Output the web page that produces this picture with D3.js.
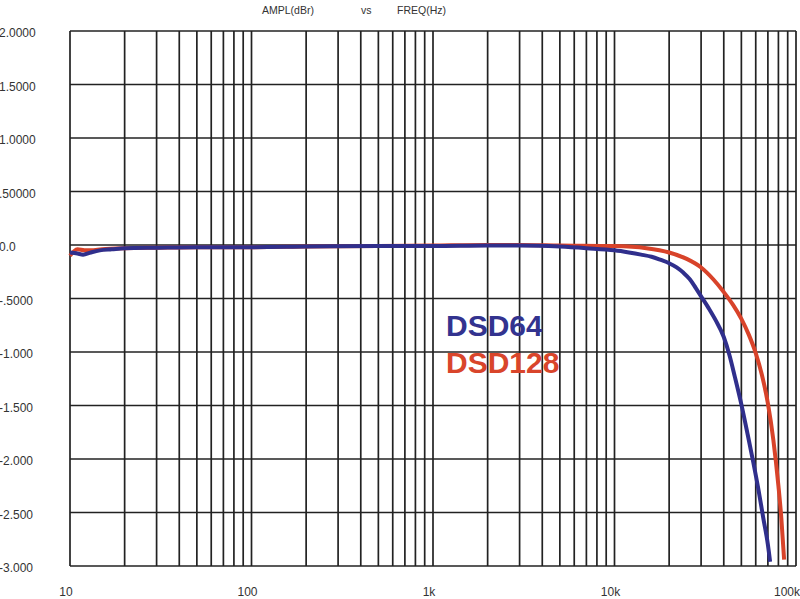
<!DOCTYPE html>
<html>
<head>
<meta charset="utf-8">
<script src="https://cdn.jsdelivr.net/npm/d3@7"></script>
<style>
  body { margin: 0; background: #fff; }
  text { font-family: "Liberation Sans", Arial, sans-serif; }
</style>
</head>
<body>
<script>
var width = 800,
    height = 599;

// frequency response, dBr vs Hz
var dsd64Freq = [10, 11, 11.8, 13, 14.6, 17, 20, 30, 50, 100, 200, 500, 1000, 2000, 3000, 5000, 7000, 10000, 12000, 14000, 16000, 18000, 20000, 22000, 24000, 26000, 28000, 30000, 33000, 36000, 40000, 43000, 46000, 50000, 54000, 58000, 62000, 66000, 70000, 72000];
var dsd64Ampl = [-0.07, -0.08, -0.09, -0.07, -0.05, -0.04, -0.03, -0.025, -0.02, -0.02, -0.015, -0.01, -0.01, -0.005, -0.005, -0.015, -0.03, -0.05, -0.07, -0.09, -0.11, -0.14, -0.17, -0.21, -0.26, -0.32, -0.4, -0.48, -0.59, -0.7, -0.86, -1.03, -1.23, -1.49, -1.76, -2.02, -2.28, -2.55, -2.8, -2.96];

var dsd128Freq = [10, 10.5, 11, 12, 13, 15, 20, 30, 50, 100, 200, 500, 1000, 2000, 3000, 5000, 10000, 15000, 20000, 25000, 30000, 35000, 40000, 45000, 50000, 55000, 60000, 65000, 70000, 75000, 80000, 83000, 86000];
var dsd128Ampl = [-0.1, -0.06, -0.04, -0.05, -0.05, -0.04, -0.03, -0.025, -0.02, -0.02, -0.015, -0.01, -0.005, 0, 0, -0.005, -0.01, -0.03, -0.07, -0.13, -0.21, -0.32, -0.44, -0.56, -0.69, -0.84, -1.01, -1.22, -1.48, -1.82, -2.25, -2.55, -2.94];

var yTickValues = [2, 1.5, 1, 0.5, 0, -0.5, -1, -1.5, -2, -2.5, -3];
var yTickLabels = ["2.0000", "1.5000", "1.0000", ".50000", "0.0", "-.5000", "-1.000", "-1.500", "-2.000", "-2.500", "-3.000"];
var xTickValues = [10, 100, 1000, 10000, 100000];
var xTickLabels = ["10", "100", "1k", "10k", "100k"];

var x = d3.scaleLog().domain([10, 100000]).range([70, 796]);
var y = d3.scaleLinear().domain([-3, 2]).range([566, 31]);

var svg = d3.select("body").append("svg")
    .attr("width", width)
    .attr("height", height);

// title
var title = svg.append("g").attr("fill", "#333").style("font-size", "10.5px");
title.append("text").attr("x", 262).attr("y", 14).text("AMPL(dBr)");
title.append("text").attr("x", 361).attr("y", 14).text("vs");
title.append("text").attr("x", 397).attr("y", 14).text("FREQ(Hz)");

// grid
var grid = svg.append("g")
    .attr("stroke", "#222")
    .attr("stroke-width", 1.7);

grid.selectAll(".vline")
    .data(x.ticks())
    .enter().append("line")
    .attr("class", "vline")
    .attr("x1", function (d) { return x(d); })
    .attr("x2", function (d) { return x(d); })
    .attr("y1", y(2))
    .attr("y2", y(-3));

grid.selectAll(".hline")
    .data(yTickValues)
    .enter().append("line")
    .attr("class", "hline")
    .attr("x1", x(10))
    .attr("x2", x(100000))
    .attr("y1", function (d) { return y(d); })
    .attr("y2", function (d) { return y(d); });

// y labels (left aligned at page edge)
svg.append("g").selectAll("text")
    .data(yTickValues)
    .enter().append("text")
    .attr("x", -1)
    .attr("y", function (d) { return y(d) + 6; })
    .attr("fill", "#333")
    .style("font-size", "12px")
    .text(function (d, i) { return yTickLabels[i]; });

// x labels
svg.append("g").selectAll("text")
    .data(xTickValues)
    .enter().append("text")
    .attr("x", function (d) { return Math.min(x(d) - 4, width - 13); })
    .attr("y", 596)
    .attr("text-anchor", "middle")
    .attr("fill", "#333")
    .style("font-size", "12px")
    .text(function (d, i) { return xTickLabels[i]; });

var line = d3.line()
    .x(function (d) { return x(d[0]); })
    .y(function (d) { return y(d[1]); })
    .curve(d3.curveMonotoneX);

svg.append("path")
    .datum(d3.zip(dsd128Freq, dsd128Ampl))
    .attr("fill", "none")
    .attr("stroke", "#d8432a")
    .attr("stroke-width", 4)
    .attr("d", line);

svg.append("path")
    .datum(d3.zip(dsd64Freq, dsd64Ampl))
    .attr("fill", "none")
    .attr("stroke", "#302f8c")
    .attr("stroke-width", 4)
    .attr("d", line);

// legend
svg.append("text")
    .attr("x", 446).attr("y", 336)
    .attr("fill", "#33338f")
    .style("font-size", "30px").style("font-weight", "bold")
    .text("DSD64");
svg.append("text")
    .attr("x", 446).attr("y", 373)
    .attr("fill", "#d9452b")
    .style("font-size", "30px").style("font-weight", "bold")
    .text("DSD128");
</script>
</body>
</html>
